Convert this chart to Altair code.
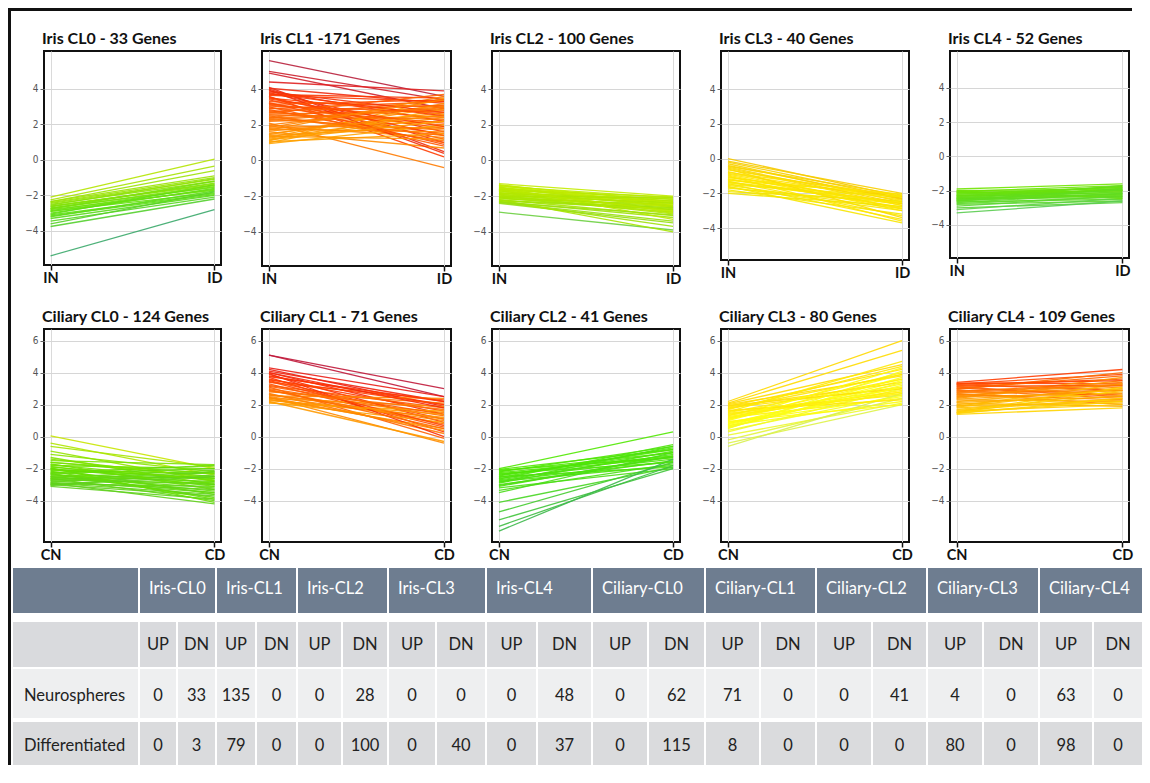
import altair as alt
import pandas as pd

# ---------------- data ----------------
# each pair of lists = value of every drawn gene line at the two conditions
IRIS_CL0_IN = [-2.1, -2.25, -2.35, -2.4, -2.5, -2.55, -2.6, -2.65, -2.7, -2.75, -2.8, -2.85, -2.9, -3.0, -3.05, -3.1,
               -3.2, -3.3, -3.45, -3.6, -3.75, -5.4, -2.45, -2.6, -2.75, -2.9, -3.15, -2.35]
IRIS_CL0_ID = [0.05, -0.35, -0.6, -1.0, -1.2, -1.05, -1.4, -1.3, -1.55, -1.2, -1.7, -1.5, -1.85, -1.6, -1.4, -1.9,
               -1.75, -2.0, -2.1, -1.8, -2.2, -2.8, -1.1, -1.35, -1.45, -1.65, -1.95, -0.9]

IRIS_CL1_IN = [5.6, 5.0, 4.9, 4.4, 4.1, 4.0, 4.05, 3.9, 3.8, 3.7, 3.6, 3.5, 3.4, 3.3, 3.2, 3.1, 3.0, 2.9, 2.8, 2.7,
               2.6, 2.5, 2.4, 2.3, 2.2, 2.1, 2.0, 1.9, 1.8, 1.7, 1.6, 1.5, 1.4, 1.3, 1.2, 1.1, 1.0, 0.95, 3.95, 2.65,
               1.45, 3.85, 3.55, 2.95, 2.35, 1.75, 1.25, 3.25, 2.75, 1.05,
               3.75, 3.45, 3.15, 2.85, 2.55, 2.25, 1.95, 1.65, 1.35, 1.15, 3.65, 3.05, 2.45, 1.85]
IRIS_CL1_ID = [3.6, 3.4, 2.9, 3.9, 0.5, 1.0, 3.2, 2.2, 1.6, 3.5, 0.2, 2.6, 1.2, 3.0, 1.8, 2.4, 0.8, 3.3, 1.5, 2.0,
               2.8, 1.1, 3.4, 1.7, 2.5, -0.4, 3.1, 1.3, 2.2, 3.6, 0.7, 2.7, 1.9, 3.2, 2.4, 3.5, 2.9, 2.0, 0.4, 3.7,
               3.0, 2.7, 1.4, 2.1, 2.9, 1.6, 2.6, 0.9, 3.1, 1.5,
               2.5, 1.9, 3.4, 1.0, 2.3, 3.0, 1.8, 2.5, 1.2, 2.2, 3.3, 2.7, 1.4, 3.4]

IRIS_CL2_IN = [-1.3, -1.4, -1.45, -1.5, -1.55, -1.6, -1.65, -1.7, -1.75, -1.8, -1.85, -1.9, -1.95, -2.0, -2.05,
               -2.1, -2.15, -2.2, -2.25, -2.3, -2.35, -2.4, -2.3, -2.9, -2.2, -1.6, -1.35, -1.5, -1.85, -2.05,
               -1.4, -1.55, -1.7, -1.9, -2.1, -2.25, -1.8, -2.0, -1.65, -2.35]
IRIS_CL2_ID = [-2.0, -2.3, -2.1, -2.6, -2.2, -2.4, -2.05, -2.8, -2.3, -2.5, -2.15, -2.7, -3.0, -2.35, -2.6,
               -2.9, -2.45, -3.1, -2.75, -3.2, -3.4, -3.5, -3.7, -3.9, -4.0, -2.9, -2.5, -3.3, -2.25, -2.55,
               -2.65, -2.35, -2.55, -2.4, -2.75, -2.65, -2.95, -2.1, -2.85, -3.05]

IRIS_CL3_IN = [0.0, -0.15, -0.3, -0.45, -0.55, -0.65, -0.75, -0.85, -0.95, -1.05, -1.1, -1.2, -1.3, -1.35, -1.45,
               -1.55, -1.6, -1.7, -1.8, -1.9, -2.0, -0.6, -1.0, -0.4, -1.25,
               -0.2, -0.5, -0.8, -1.15, -1.4, -1.65, -0.9, -1.5]
IRIS_CL3_ID = [-2.2, -2.0, -2.5, -2.1, -2.7, -2.3, -2.9, -2.4, -3.0, -2.6, -2.2, -2.8, -3.3, -2.5, -3.5,
               -2.9, -3.7, -2.6, -3.2, -2.45, -2.75, -3.4, -3.6, -2.35, -2.05,
               -2.3, -2.6, -2.15, -2.85, -2.55, -3.0, -2.7, -2.2]

IRIS_CL4_IN = [-1.9, -2.0, -2.05, -2.1, -2.15, -2.2, -2.25, -2.3, -2.35, -2.4, -2.45, -2.5, -2.55, -2.6, -2.65,
               -2.7, -2.8, -2.9, -3.0, -3.1, -3.3, -2.0, -2.3, -2.5, -2.1, -2.3, -2.45, -2.6, -2.75, -2.2, -2.4, -2.55]
IRIS_CL4_ID = [-1.6, -1.9, -1.7, -2.2, -1.8, -2.0, -2.35, -1.75, -2.1, -1.9, -2.4, -2.05, -2.25, -1.85, -2.5,
               -2.15, -2.6, -2.3, -2.7, -2.45, -2.6, -2.45, -2.0, -1.7, -2.0, -1.95, -2.2, -2.15, -2.35, -1.8, -2.3, -1.95]

CIL_CL0_CN = [0.05, -0.4, -0.6, -0.9, -1.1, -1.3, -1.5, -1.6, -1.7, -1.8, -1.9, -2.0, -2.1, -2.2, -2.25, -2.3, -2.4,
              -2.5, -2.55, -2.6, -2.7, -2.75, -2.8, -2.9, -2.95, -3.0, -3.05, -3.1, -2.0, -1.4, -2.35, -1.95, -2.65, -2.85,
              -1.6, -1.85, -2.05, -2.3, -2.5, -2.7, -2.9, -2.45, -2.15, -1.75, -2.6, -3.0]
CIL_CL0_CD = [-2.0, -2.4, -1.9, -2.8, -2.2, -3.0, -1.75, -2.5, -3.3, -2.0, -2.7, -3.6, -2.3, -3.0, -1.8, -3.8, -2.6,
              -3.2, -2.1, -4.0, -2.9, -3.5, -2.4, -4.2, -3.1, -3.7, -2.2, -3.9, -2.9, -2.6, -3.4, -4.1, -2.5, -3.3,
              -2.3, -3.1, -2.6, -2.0, -3.5, -2.2, -3.6, -2.8, -3.9, -2.75, -3.0, -2.5]

CIL_CL1_CN = [5.1, 5.1, 4.3, 4.2, 4.1, 4.0, 3.9, 3.8, 3.7, 3.6, 3.5, 3.4, 3.3, 3.2, 3.1, 3.0, 2.9, 2.8, 2.7, 2.6,
              2.5, 2.45, 2.4, 2.35, 2.3, 2.2, 2.15, 2.1, 3.95, 2.55, 4.0, 3.75, 3.45, 3.15, 2.85, 2.65, 2.45, 2.25, 3.55, 2.95]
CIL_CL1_CD = [3.0, 2.5, 2.5, 1.9, 2.2, 1.4, 0.9, 2.0, 0.3, 1.6, 1.1, 2.3, 0.6, 1.8, -0.1, 1.3, 0.8, 2.1, 0.2, 1.5,
              1.0, -0.4, 1.9, 0.5, 1.2, -0.3, 0.9, 1.6, 0.0, 2.4, 1.8, 2.2, 0.7, 1.4, 1.7, 1.1, 0.4, 1.4, 2.0, 0.5]

CIL_CL2_CN = [-2.0, -2.05, -2.1, -2.2, -2.3, -2.4, -2.5, -2.55, -2.6, -2.7, -2.8, -2.9, -3.0, -3.1, -3.2, -3.35,
              -3.5, -4.1, -4.7, -5.2, -5.6, -5.9, -2.25, -2.65, -2.15, -2.35, -2.45, -2.75, -2.85, -3.05]
CIL_CL2_CD = [0.3, -0.8, -1.3, -0.6, -1.6, -1.0, -1.9, -0.7, -1.4, -1.1, -1.8, -0.9, -1.5, -1.2, -2.0, -1.7,
              -1.0, -1.9, -1.6, -2.0, -1.8, -1.4, -1.2, -0.5, -1.0, -1.3, -0.8, -1.55, -0.6, -1.25]

CIL_CL3_CN = [2.2, 2.1, 2.05, 2.0, 1.9, 1.8, 1.7, 1.6, 1.5, 1.4, 1.3, 1.2, 1.1, 1.0, 0.9, 0.8, 0.7, 0.6, 0.5, 0.4,
              0.3, 0.1, -0.2, -0.4, -0.6, 1.55, 0.95, 1.85, 1.25, 0.65, 1.95, 1.75, 1.45, 1.15, 0.85, 0.55, 1.65, 1.05, 0.75, 1.35]
CIL_CL3_CD = [6.0, 5.4, 4.5, 3.8, 4.2, 3.1, 4.4, 2.6, 3.6, 3.0, 4.0, 2.4, 3.3, 3.9, 2.8, 3.5, 2.2, 3.2, 4.1, 2.6,
              3.0, 2.1, 2.4, 2.0, 2.7, 4.7, 2.0, 3.4, 2.9, 3.7, 3.0, 3.9, 2.8, 3.6, 2.5, 3.4, 2.3, 4.3, 3.1, 2.7]

CIL_CL4_CN = [3.4, 3.35, 3.3, 3.25, 3.2, 3.1, 3.0, 2.9, 2.8, 2.7, 2.6, 2.5, 2.4, 2.3, 2.2, 2.1, 2.0, 1.9, 1.8, 1.7,
              1.6, 1.5, 1.45, 1.4, 2.95, 2.45, 1.95, 1.55, 2.75, 3.15, 3.05, 2.85, 2.65, 2.35, 2.15, 1.85, 1.65, 1.5, 2.55, 3.3]
CIL_CL4_CD = [4.2, 3.3, 3.9, 2.9, 3.6, 2.6, 3.8, 2.4, 3.4, 2.0, 3.1, 2.7, 3.5, 2.2, 3.0, 1.9, 2.8, 3.3, 2.3, 2.6,
              2.0, 2.9, 2.4, 1.8, 4.0, 3.7, 2.1, 3.1, 2.9, 3.2, 2.5, 3.2, 2.3, 2.9, 2.5, 3.0, 2.4, 2.2, 3.3, 3.5]

PANEL_TITLES = ["Iris CL0 - 33 Genes", "Iris CL1 -171 Genes", "Iris CL2 - 100 Genes", "Iris CL3 - 40 Genes",
                "Iris CL4 - 52 Genes", "Ciliary CL0 - 124 Genes", "Ciliary CL1 - 71 Genes",
                "Ciliary CL2 - 41 Genes", "Ciliary CL3 - 80 Genes", "Ciliary CL4 - 109 Genes"]
IRIS_CONDS = ["IN", "ID"]
CIL_CONDS = ["CN", "CD"]
ROW1_TICKS = [-4, -2, 0, 2, 4]
ROW2_TICKS = [-4, -2, 0, 2, 4, 6]

TABLE_CLUSTERS = ["Iris-CL0", "Iris-CL1", "Iris-CL2", "Iris-CL3", "Iris-CL4",
                  "Ciliary-CL0", "Ciliary-CL1", "Ciliary-CL2", "Ciliary-CL3", "Ciliary-CL4"]
SUB_HEADERS = ["UP", "DN"]
ROW_LABELS = ["Neurospheres", "Differentiated"]
NEURO_UP = [0, 135, 0, 0, 0, 0, 71, 0, 4, 63]
NEURO_DN = [33, 0, 28, 0, 48, 62, 0, 41, 0, 0]
DIFF_UP = [0, 79, 0, 0, 0, 0, 8, 0, 80, 98]
DIFF_DN = [3, 0, 100, 40, 37, 115, 0, 0, 0, 0]

# ---------------- layout (page pixels) ----------------
VIEW_LEFT = 44
ROW1_TOP = 51
COL_W = [177, 189, 188, 188, 179]
H_ROW1 = [214, 215, 215, 209, 207]
H_ROW2 = [213, 213, 213, 213, 213]
SP_ROW = 63
SP_COL = 41
TABLE_TOP = ROW1_TOP + max(H_ROW1) + SP_ROW + max(H_ROW2) + SP_ROW
TABLE_RIGHT = 1142
FRAME_RIGHT = 1132
TABLE_BOTTOM = 765
FIRST_COL = (13, 138)
SUBCOL_EDGES = [(140, 176), (178, 215), (217, 255), (257, 296), (298, 341), (343, 387), (389, 435), (437, 485),
                (487, 536), (538, 591), (593, 647), (649, 704), (706, 759), (761, 815), (817, 871), (873, 926),
                (928, 982), (984, 1038), (1040, 1092), (1094, 1142)]
ROW_BANDS = {"head": (568, 613), "sub": (622, 667), "neuro": (669, 718), "diff": (722, 765)}
FRAME = (8, 11)  # outer border band (page px)

FONT = "Lato"
TICK_FONT = "Liberation Sans Narrow, DejaVu Sans Condensed, sans-serif"


def panel(title, conds, starts, ends, width, height, ydom, yticks, cdom, crange):
    recs = []
    for i, (s, e) in enumerate(zip(starts, ends)):
        recs.append({"gene": i, "cond": conds[0], "value": s, "level": s, "ord": 0})
        recs.append({"gene": i, "cond": conds[1], "value": e, "level": s, "ord": 1})
    df = pd.DataFrame(recs)
    return alt.Chart(df, title=alt.TitleParams(
        title, anchor="start", frame="group", font=FONT, fontSize=16, fontWeight="bold", color="#111",
        offset=4, dx=-2
    )).mark_line(strokeWidth=1.3, opacity=0.9).encode(
        x=alt.X("cond:N", sort=conds, scale=alt.Scale(type="point", padding=0.04),
                axis=alt.Axis(title=None, labelAngle=0, labelFont=FONT, labelFontSize=14.5, labelFontWeight="bold",
                              labelColor="#111", tickColor="#111", tickSize=5, tickWidth=1.5, grid=True,
                              gridColor="#dadada", domain=False, labelPadding=1)),
        y=alt.Y("value:Q", scale=alt.Scale(domain=ydom, nice=False, zero=False),
                axis=alt.Axis(title=None, values=yticks, labelFont=TICK_FONT, labelFontSize=10,
                              labelColor="#555", tickColor="#666", tickSize=4, grid=True, gridColor="#d6d6d6",
                              domain=False, labelPadding=2)),
        color=alt.Color("level:Q", scale=alt.Scale(domain=cdom, range=crange, interpolate="rgb"), legend=None),
        detail="gene:N",
        order="ord:Q",
    ).properties(width=width, height=height, view=alt.ViewBackground(stroke="#111", strokeWidth=2))


Y1 = [-5.92, 6.14]
Y2 = [-6.58, 6.73]
panels = [
    panel(PANEL_TITLES[0], IRIS_CONDS, IRIS_CL0_IN, IRIS_CL0_ID, COL_W[0], H_ROW1[0], Y1, ROW1_TICKS,
          [-5.4, -3.0, -2.1], ["#3aa86a", "#5fe010", "#b4e400"]),
    panel(PANEL_TITLES[1], IRIS_CONDS, IRIS_CL1_IN, IRIS_CL1_ID, COL_W[1], H_ROW1[1], Y1, ROW1_TICKS,
          [1.0, 2.4, 3.6, 4.4, 5.6], ["#ffa200", "#ff7000", "#ff3c00", "#e02020", "#b8203c"]),
    panel(PANEL_TITLES[2], IRIS_CONDS, IRIS_CL2_IN, IRIS_CL2_ID, COL_W[2], H_ROW1[2], Y1, ROW1_TICKS,
          [-2.9, -2.2, -1.3], ["#6ccf40", "#a6e400", "#c4ec00"]),
    panel(PANEL_TITLES[3], IRIS_CONDS, IRIS_CL3_IN, IRIS_CL3_ID, COL_W[3], H_ROW1[3], [-5.84, 6.19], ROW1_TICKS,
          [-2.0, -1.0, 0.0], ["#f2e600", "#ffe600", "#f5c800"]),
    panel(PANEL_TITLES[4], IRIS_CONDS, IRIS_CL4_IN, IRIS_CL4_ID, COL_W[4], H_ROW1[4], [-5.93, 6.16], ROW1_TICKS,
          [-3.3, -2.6, -1.9], ["#5acc50", "#60dc20", "#70e400"]),
    panel(PANEL_TITLES[5], CIL_CONDS, CIL_CL0_CN, CIL_CL0_CD, COL_W[0], H_ROW2[0], Y2, ROW2_TICKS,
          [-3.1, -2.0, -1.0, 0.05], ["#60d020", "#66e000", "#90e400", "#c8e600"]),
    panel(PANEL_TITLES[6], CIL_CONDS, CIL_CL1_CN, CIL_CL1_CD, COL_W[1], H_ROW2[1], Y2, ROW2_TICKS,
          [2.1, 2.9, 3.7, 4.4, 5.1], ["#ffa000", "#ff6e00", "#ff3400", "#e51a1a", "#c0183a"]),
    panel(PANEL_TITLES[7], CIL_CONDS, CIL_CL2_CN, CIL_CL2_CD, COL_W[2], H_ROW2[2], Y2, ROW2_TICKS,
          [-5.9, -4.0, -2.0], ["#3cb84a", "#48d820", "#50e800"]),
    panel(PANEL_TITLES[8], CIL_CONDS, CIL_CL3_CN, CIL_CL3_CD, COL_W[3], H_ROW2[3], Y2, ROW2_TICKS,
          [-0.6, 0.8, 2.2], ["#d8f050", "#ffff10", "#ffd800"]),
    panel(PANEL_TITLES[9], CIL_CONDS, CIL_CL4_CN, CIL_CL4_CD, COL_W[4], H_ROW2[4], Y2, ROW2_TICKS,
          [1.4, 2.2, 2.9, 3.4], ["#ffd400", "#ffa800", "#ff7000", "#ff3c00"]),
]

# ---------------- table ----------------
cells, head_txt, left_txt, mid_txt = [], [], [], []


def band_mid(b):
    return (ROW_BANDS[b][0] + ROW_BANDS[b][1]) / 2


cells.append({"x0": FIRST_COL[0], "x1": FIRST_COL[1], "y0": ROW_BANDS["head"][0], "y1": ROW_BANDS["head"][1], "kind": "head"})
for k, name in enumerate(TABLE_CLUSTERS):
    a, b = SUBCOL_EDGES[2 * k][0], SUBCOL_EDGES[2 * k + 1][1]
    cells.append({"x0": a, "x1": b, "y0": ROW_BANDS["head"][0], "y1": ROW_BANDS["head"][1], "kind": "head"})
    head_txt.append({"x": a, "y": band_mid("head") - 2, "label": name})

rows = [("sub", None, None), ("neuro", ROW_LABELS[0], (NEURO_UP, NEURO_DN)), ("diff", ROW_LABELS[1], (DIFF_UP, DIFF_DN))]
for band, label, vals in rows:
    y0, y1 = ROW_BANDS[band]
    cells.append({"x0": FIRST_COL[0], "x1": FIRST_COL[1], "y0": y0, "y1": y1, "kind": band})
    if label:
        left_txt.append({"x": FIRST_COL[0], "y": band_mid(band) + 2, "label": label})
    for j, (a, b) in enumerate(SUBCOL_EDGES):
        cells.append({"x0": a, "x1": b, "y0": y0, "y1": y1, "kind": band})
        txt = SUB_HEADERS[j % 2] if vals is None else str(vals[j % 2][j // 2])
        mid_txt.append({"x": (a + b) / 2, "y": band_mid(band) + (0 if band == "sub" else 2), "label": txt})

TW = COL_W[0]
TH = TABLE_BOTTOM - TABLE_TOP
xs = alt.Scale(domain=[VIEW_LEFT, VIEW_LEFT + TW], nice=False, zero=False)
ys = alt.Scale(domain=[TABLE_TOP, TABLE_BOTTOM], nice=False, zero=False, reverse=True)

rects = alt.Chart(pd.DataFrame(cells)).mark_rect().encode(
    x=alt.X("x0:Q", scale=xs, axis=None), x2="x1:Q",
    y=alt.Y("y0:Q", scale=ys, axis=None), y2="y1:Q",
    color=alt.Color("kind:N", scale=alt.Scale(domain=["head", "sub", "neuro", "diff"],
                                              range=["#6e7d90", "#d9dadd", "#eeeff0", "#dadbdd"]), legend=None),
)
htxt = alt.Chart(pd.DataFrame(head_txt)).mark_text(
    align="left", baseline="middle", dx=9, font=FONT, fontSize=16.5, color="white"
).encode(x=alt.X("x:Q", scale=xs, axis=None), y=alt.Y("y:Q", scale=ys, axis=None), text="label:N")
ltxt = alt.Chart(pd.DataFrame(left_txt)).mark_text(
    align="left", baseline="middle", dx=11, font=FONT, fontSize=16.5, color="#222"
).encode(x=alt.X("x:Q", scale=xs, axis=None), y=alt.Y("y:Q", scale=ys, axis=None), text="label:N")
mtxt = alt.Chart(pd.DataFrame(mid_txt)).mark_text(
    align="center", baseline="middle", font=FONT, fontSize=16.5, color="#222"
).encode(x=alt.X("x:Q", scale=xs, axis=None), y=alt.Y("y:Q", scale=ys, axis=None), text="label:N")

# outer frame of the figure (left and top border) as filled bands
one = pd.DataFrame({"k": [0]})
frame_left = alt.Chart(one).mark_rect(color="#111").encode(
    x=alt.value(FRAME[0] - VIEW_LEFT), x2=alt.value(FRAME[1] - VIEW_LEFT),
    y=alt.value(FRAME[0] - TABLE_TOP), y2=alt.value(TABLE_BOTTOM - TABLE_TOP))
frame_top = alt.Chart(one).mark_rect(color="#111").encode(
    x=alt.value(FRAME[0] - VIEW_LEFT), x2=alt.value(FRAME_RIGHT - VIEW_LEFT),
    y=alt.value(FRAME[0] - TABLE_TOP), y2=alt.value(FRAME[1] - TABLE_TOP))

table = alt.layer(rects, htxt, ltxt, mtxt, frame_left, frame_top).properties(
    width=TW, height=TH, view=alt.ViewBackground(strokeWidth=0, stroke="transparent"))

chart = alt.concat(
    *panels, table, columns=5, spacing={"row": SP_ROW, "column": SP_COL}, bounds="flush", align="each"
).resolve_scale(x="independent", y="independent", color="independent").properties(
    padding=0, background="white"
)

chart.save("out.html", embed_options={"renderer": "svg", "actions": False})
